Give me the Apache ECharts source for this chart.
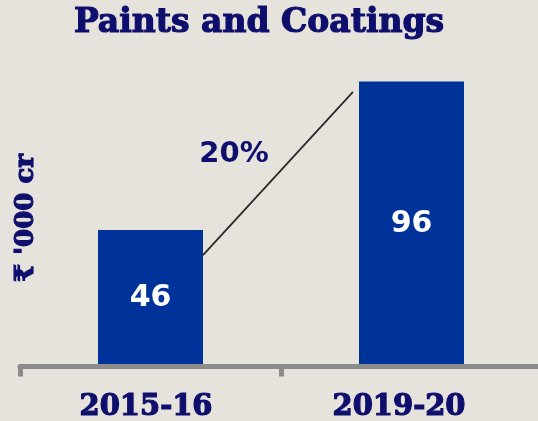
<!DOCTYPE html>
<html>
<head>
<meta charset="utf-8">
<script src="https://cdn.jsdelivr.net/npm/echarts@6/dist/echarts.min.js"></script>
<style>
  html, body { margin: 0; padding: 0; background: #e6e2dc; }
  #chart { width: 538px; height: 421px; }
</style>
</head>
<body>
<div id="chart"></div>
<script>
// Market size, Paints and Coatings (₹ '000 crore)
const categories = ['2015-16', '2019-20'];
const values = [46, 96];
const growthLabel = '20%';
// value-axis levels where the growth connector meets the two bars
const connectorLevels = [37.5, 92.5];

const NAVY = '#0e0e6c';
const BAR = '#003399';
const BAR_WIDTH = 105;
const SERIF = 'DejaVu Serif';

const heavySerif = (size) => ({
  fontFamily: SERIF,
  fontWeight: 'bold',
  fontSize: size,
  color: NAVY,
  textBorderColor: NAVY,
  textBorderWidth: 1.2
});

const chart = echarts.init(document.getElementById('chart'), null, { renderer: 'canvas' });

chart.setOption({
  backgroundColor: '#e6e2dc',
  animation: false,
  title: {
    text: 'Paints and Coatings',
    left: 254,
    top: 2,
    textAlign: 'center',
    textStyle: heavySerif(33)
  },
  grid: { left: 20, top: 69.5, width: 522, height: 297, containLabel: false, outerBoundsMode: 'none' },
  xAxis: {
    type: 'category',
    data: categories,
    z: 3,
    axisLine: { show: true, lineStyle: { color: '#8c8c8c', width: 5 } },
    axisTick: { show: true, length: 10, lineStyle: { color: '#8c8c8c', width: 5 } },
    axisLabel: {
      margin: 26,
      formatter: function (v, i) { return '{c' + i + '|' + v + '}'; },
      rich: {
        c0: Object.assign(heavySerif(29), { padding: [0, 9, 0, 0] }),
        c1: Object.assign(heavySerif(29), { padding: [0, 25, 0, 0] })
      }
    }
  },
  yAxis: {
    type: 'value',
    min: 0,
    max: 100,
    show: true,
    splitLine: { show: false },
    axisLine: { show: false },
    axisTick: { show: false },
    axisLabel: { show: false },
    name: "₹ '000 cr",
    nameLocation: 'middle',
    nameRotate: 90,
    nameGap: -19,
    nameTextStyle: heavySerif(26)
  },
  series: [{
    type: 'bar',
    data: values,
    barWidth: BAR_WIDTH,
    itemStyle: { color: BAR },
    label: {
      show: true,
      position: 'inside',
      color: '#ffffff',
      fontFamily: 'DejaVu Sans',
      fontWeight: 'bold',
      fontSize: 30
    }
  }]
});

// growth connector between the two bars, with the CAGR label beside it
const p0 = chart.convertToPixel({ gridIndex: 0 }, [0, connectorLevels[0]]);
const p1 = chart.convertToPixel({ gridIndex: 0 }, [1, connectorLevels[1]]);
const x1 = p0[0] + BAR_WIDTH / 2;
const x2 = p1[0] - BAR_WIDTH / 2 - 6;
chart.setOption({
  graphic: [
    {
      type: 'line',
      shape: { x1: x1, y1: p0[1], x2: x2, y2: p1[1] },
      style: { stroke: '#2a2a2a', lineWidth: 1.8 },
      z: 10
    },
    {
      type: 'text',
      x: (x1 + x2) / 2 - 44,
      y: (p0[1] + p1[1]) / 2 - 19,
      style: {
        text: growthLabel,
        fill: NAVY,
        fontFamily: 'DejaVu Sans',
        fontWeight: 'bold',
        fontSize: 29,
        align: 'center',
        verticalAlign: 'middle'
      },
      z: 10
    }
  ]
});
</script>
</body>
</html>
